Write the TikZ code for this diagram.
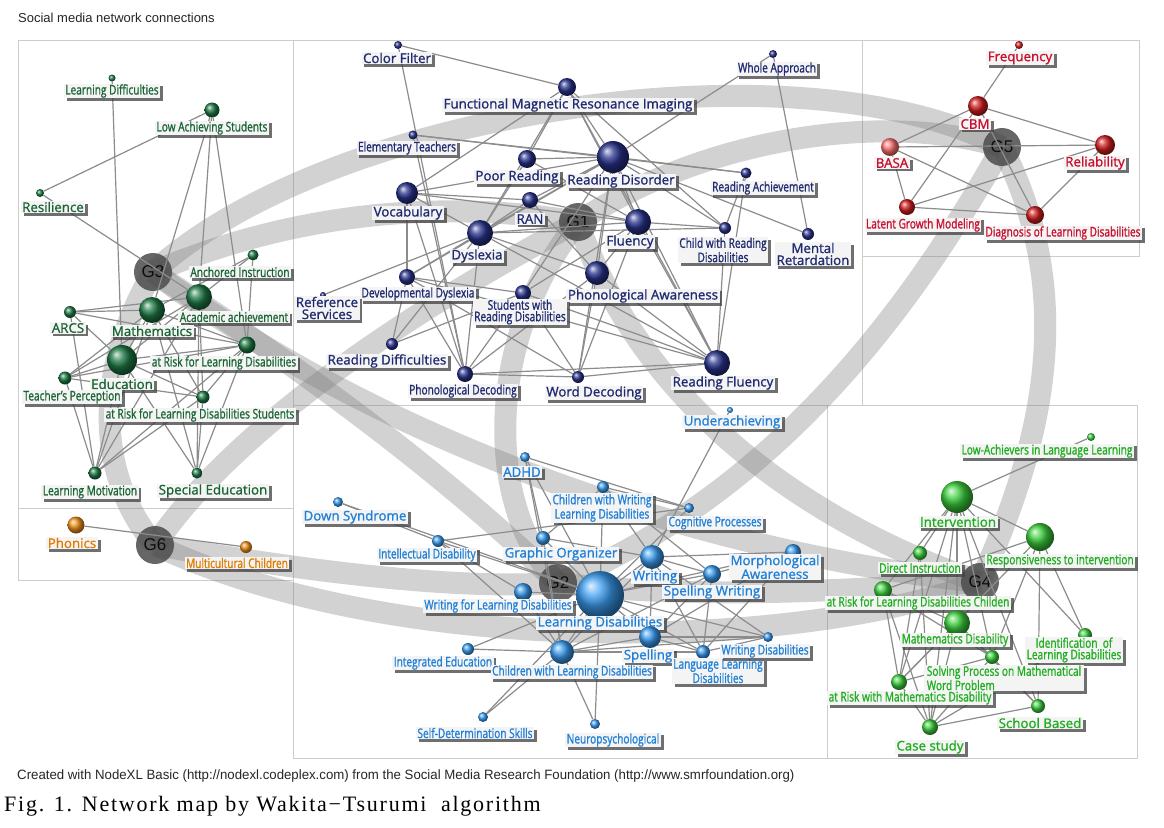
\documentclass[tikz,border=0pt]{standalone}
\usepackage{fontspec}
\setmainfont{Open Sans}
\newfontfamily\lblfont[FakeBold=1.2]{Open Sans}
\newfontfamily\cndfont[FakeStretch=0.76,FakeBold=1.2]{Open Sans}
\newfontfamily\uifont{Liberation Sans}
\newfontfamily\narrowfont[FakeStretch=0.98]{Liberation Sans}
\newfontfamily\capfont[LetterSpace=8]{Liberation Serif}
\usetikzlibrary{shadows}
\pgfdeclarelayer{paper}
\pgfdeclarelayer{bands}
\pgfdeclarelayer{edges}
\pgfsetlayers{paper,bands,edges,main}
\definecolor{cnavy}{HTML}{28328C}
\definecolor{tnavy}{HTML}{1F2A70}
\definecolor{cblue}{HTML}{3A9CF0}
\definecolor{tblue}{HTML}{2080D8}
\definecolor{cdkg}{HTML}{1E7A45}
\definecolor{tdkg}{HTML}{1B6535}
\definecolor{cgrn}{HTML}{3CD03C}
\definecolor{tgrn}{HTML}{1FAE1F}
\definecolor{cred}{HTML}{D21E1E}
\definecolor{tred}{HTML}{C8102E}
\definecolor{corg}{HTML}{F0901A}
\definecolor{torg}{HTML}{E27C00}
\definecolor{lblbg}{HTML}{F4F4F4}
\tikzset{
  ballnode/.style={circle, inner sep=0pt, minimum size=#1pt},
  b1/.style={ballnode=#1, ball color=cnavy},
  b2/.style={ballnode=#1, ball color=cblue},
  b3/.style={ballnode=#1, ball color=cdkg},
  b4/.style={ballnode=#1, ball color=cgrn},
  b5/.style={ballnode=#1, ball color=cred},
  b6/.style={ballnode=#1, ball color=corg},
  lbl/.style={fill=lblbg, inner xsep=1.5pt, inner ysep=0.8pt, align=center,
    drop shadow={shadow xshift=2.8pt, shadow yshift=-2.8pt, fill=black!75, opacity=0.75},
    font=\lblfont\fontsize{13.3}{12}\selectfont},
  cnd/.style={lbl, font=\cndfont\fontsize{13.3}{11.5}\selectfont},
  t1/.style={text=tnavy}, t2/.style={text=tblue}, t3/.style={text=tdkg},
  t4/.style={text=tgrn}, t5/.style={text=tred}, t6/.style={text=torg},
  edge/.style={draw=black!45, line width=1.2pt},
  band/.style={draw=black!50, line width=22pt, opacity=0.35},
  gnode/.style={circle, fill=black!70, fill opacity=0.85, text opacity=1,
    minimum size=38pt, inner sep=0pt, text=black!95, font=\uifont\fontsize{17}{17}\selectfont},
  boxline/.style={draw=black!20, line width=0.9pt}
}
\begin{document}
\begin{tikzpicture}[x=1pt,y=-1pt]
\begin{pgfonlayer}{paper}
\fill[white] (0,0) rectangle (1164,827);
\end{pgfonlayer}
\useasboundingbox (0,0) rectangle (1164,827);
% group boxes
\begin{pgfonlayer}{bands}
\draw[boxline] (18,40) rectangle (293,508);
\draw[boxline] (18,508) rectangle (293,580);
\draw[boxline] (293,40) rectangle (862,405);
\draw[boxline] (862,40) rectangle (1139,256);
\draw[boxline] (293,405) rectangle (827,758);
\draw[boxline] (827,405) rectangle (1137,758);
\end{pgfonlayer}
% titles
\node[anchor=west, text=black!85, inner sep=0pt] (title) at (18,18) {\uifont\fontsize{13}{13}\selectfont Social media network connections};
\node[anchor=west, text=black!85, inner sep=0pt] (foot) at (17,776) {\narrowfont\fontsize{13.5}{13.5}\selectfont Created with NodeXL Basic (http://nodexl.codeplex.com) from the Social Media Research Foundation (http://www.smrfoundation.org)};
\node[anchor=west, text=black, inner sep=0pt] (cap) at (4,806) {\capfont\fontsize{22}{22}\selectfont Fig. 1. Network map by Wakita−Tsurumi\ \ algorithm};
% group centres
\begin{pgfonlayer}{edges}
\node[gnode] (G1) at (578,222) {G1};
\node[gnode] (G2) at (558,583) {G2};
\node[gnode] (G3) at (153,272) {G3};
\node[gnode] (G4) at (980,582) {G4};
\node[gnode] (G5) at (1002,147) {G5};
\node[gnode] (G6) at (155,545) {G6};
\end{pgfonlayer}
% ---------- G3 ----------
\node[b3=7] (cLD) at (112,78) {};   \node[cnd,t3] (cLD-l) at (112,91) {Learning Difficulties};
\node[b3=15] (cLAS) at (212,110) {}; \node[cnd,t3] (cLAS-l) at (212,128) {Low Achieving Students};
\node[b3=8] (cRes) at (40,193) {};  \node[lbl,t3] (cRes-l) at (53,207) {Resilience};
\node[b3=11] (cAI) at (253,255) {}; \node[cnd,t3] (cAI-l) at (240,272) {Anchored Instruction};
\node[b3=26] (cAA) at (199,297) {}; \node[cnd,t3] (cAA-l) at (234,317) {Academic achievement};
\node[b3=26] (cMa) at (152,310) {}; \node[lbl,t3] (cMa-l) at (152,331) {Mathematics};
\node[b3=12] (cAR) at (70,312) {};  \node[lbl,t3] (cAR-l) at (68,328) {ARCS};
\node[b3=17] (cRL) at (247,345) {}; \node[cnd,t3] (cRL-l) at (224,363) {at Risk for Learning Disabilities};
\node[b3=30] (cEd) at (122,360) {}; \node[lbl,t3] (cEd-l) at (122,384) {Education};
\node[b3=13] (cTP) at (65,378) {};  \node[cnd,t3] (cTP-l) at (72,397) {Teacher’s Perception};
\node[b3=13] (cRS) at (203,397) {}; \node[cnd,t3] (cRS-l) at (200,415) {at Risk for Learning Disabilities Students};
\node[b3=13] (cLM) at (95,473) {};  \node[cnd,t3] (cLM-l) at (90,492) {Learning Motivation};
\node[b3=11] (cSE) at (197,473) {}; \node[lbl,t3] (cSE-l) at (213,491) {Special Education};
% ---------- G6 ----------
\node[b6=17] (oPh) at (76,525) {};  \node[lbl,t6] (oPh-l) at (72,543) {Phonics};
\node[b6=12] (oMC) at (246,547) {}; \node[cnd,t6] (oMC-l) at (237,563) {Multicultural Children};
% ---------- G1 ----------
\node[b1=8] (aCF) at (398,45) {};   \node[lbl,t1] (aCF-l) at (397,58) {Color Filter};
\node[b1=18] (aFM) at (567,87) {};  \node[lbl,t1] (aFM-l) at (568,105) {Functional Magnetic Resonance Imaging};
\node[b1=9] (aET) at (413,135) {};  \node[cnd,t1] (aET-l) at (407,148) {Elementary Teachers};
\node[b1=18] (aPR) at (527,159) {}; \node[lbl,t1] (aPR-l) at (517,177) {Poor Reading};
\node[b1=32] (aRD) at (613,157) {}; \node[lbl,t1] (aRD-l) at (621,181) {Reading Disorder};
\node[b1=8] (aWA) at (773,54) {};   \node[cnd,t1] (aWA-l) at (777,69) {Whole Approach};
\node[b1=11] (aRA) at (746,173) {}; \node[cnd,t1] (aRA-l) at (763,188) {Reading Achievement};
\node[b1=22] (aVo) at (407,193) {}; \node[lbl,t1] (aVo-l) at (408,213) {Vocabulary};
\node[b1=16] (aRN) at (530,200) {}; \node[lbl,t1] (aRN-l) at (530,219) {RAN};
\node[b1=26] (aDy) at (480,233) {}; \node[lbl,t1] (aDy-l) at (477,256) {Dyslexia};
\node[b1=26] (aFl) at (638,222) {}; \node[lbl,t1] (aFl-l) at (630,242) {Fluency};
\node[b1=12] (aCR) at (725,228) {}; \node[cnd,t1] (aCR-l) at (723,250) {Child with Reading\\Disabilities};
\node[b1=12] (aMR) at (808,234) {}; \node[lbl,t1] (aMR-l) at (813,254) {Mental\\Retardation};
\node[b1=16] (aDD) at (407,277) {}; \node[cnd,t1] (aDD-l) at (418,294) {Developmental Dyslexia};
\node[b1=24] (aPA) at (597,273) {}; \node[lbl,t1] (aPA-l) at (643,296) {Phonological Awareness};
\node[b1=6] (aRS) at (323,295) {};  \node[lbl,t1] (aRS-l) at (327,308) {Reference\\Services};
\node[b1=16] (aSR) at (523,293) {}; \node[cnd,t1] (aSR-l) at (520,312) {Students with\\Reading Disabilities};
\node[b1=12] (aRf) at (392,344) {}; \node[lbl,t1] (aRf-l) at (387,361) {Reading Difficulties};
\node[b1=16] (aPD) at (465,374) {}; \node[cnd,t1] (aPD-l) at (463,391) {Phonological Decoding};
\node[b1=12] (aWD) at (578,377) {}; \node[lbl,t1] (aWD-l) at (594,393) {Word Decoding};
\node[b1=26] (aRF) at (717,363) {}; \node[lbl,t1] (aRF-l) at (723,383) {Reading Fluency};
% ---------- G5 ----------
\node[b5=8] (rFr) at (1019,45) {};  \node[lbl,t5] (rFr-l) at (1020,58) {Frequency};
\node[b5=20] (rCB) at (978,106) {}; \node[lbl,t5] (rCB-l) at (975,124) {CBM};
\node[ballnode=18, ball color=red!55] (rBA) at (890,147) {}; \node[lbl,t5] (rBA-l) at (892,163) {BASA};
\node[b5=20] (rRe) at (1105,145) {}; \node[lbl,t5] (rRe-l) at (1095,163) {Reliability};
\node[b5=16] (rLG) at (907,207) {}; \node[cnd,t5] (rLG-l) at (923,225) {Latent Growth Modeling};
\node[b5=18] (rDL) at (1035,215) {}; \node[cnd,t5] (rDL-l) at (1063,233) {Diagnosis of Learning Disabilities};
% ---------- G2 ----------
\node[b2=6] (bUn) at (730,410) {};  \node[lbl,t2] (bUn-l) at (732,422) {Underachieving};
\node[b2=10] (bAD) at (525,457) {}; \node[lbl,t2] (bAD-l) at (522,472) {ADHD};
\node[b2=12] (bCW) at (603,487) {}; \node[cnd,t2] (bCW-l) at (602,508) {Children with Writing\\Learning Disabilities};
\node[b2=10] (bDS) at (338,502) {}; \node[lbl,t2] (bDS-l) at (355,517) {Down Syndrome};
\node[b2=10] (bCP) at (689,508) {}; \node[cnd,t2] (bCP-l) at (715,523) {Cognitive Processes};
\node[b2=12] (bID) at (438,541) {}; \node[cnd,t2] (bID-l) at (427,555) {Intellectual Disability};
\node[b2=14] (bGO) at (543,538) {}; \node[lbl,t2] (bGO-l) at (561,554) {Graphic Organizer};
\node[b2=24] (bWr) at (652,557) {}; \node[lbl,t2] (bWr-l) at (655,577) {Writing};
\node[b2=16] (bMA) at (793,552) {}; \node[lbl,t2] (bMA-l) at (775,567) {Morphological\\Awareness};
\node[b2=18] (bSW) at (712,574) {}; \node[lbl,t2] (bSW-l) at (712,592) {Spelling Writing};
\node[b2=18] (bWL) at (523,592) {}; \node[cnd,t2] (bWL-l) at (498,606) {Writing for Learning Disabilities};
\node[b2=48] (bLD) at (600,595) {}; \node[lbl,t2] (bLD-l) at (600,623) {Learning Disabilities};
\node[b2=22] (bSp) at (650,637) {}; \node[lbl,t2] (bSp-l) at (648,656) {Spelling};
\node[b2=12] (bIE) at (468,649) {}; \node[cnd,t2] (bIE-l) at (443,663) {Integrated Education};
\node[b2=24] (bCL) at (562,652) {}; \node[cnd,t2] (bCL-l) at (572,672) {Children with Learning Disabilities};
\node[b2=14] (bLL) at (703,652) {}; \node[cnd,t2] (bLL-l) at (718,671) {Language Learning\\Disabilities};
\node[b2=10] (bWD) at (768,637) {}; \node[cnd,t2] (bWD-l) at (765,651) {Writing Disabilities};
\node[b2=10] (bSD) at (483,717) {}; \node[cnd,t2] (bSD-l) at (475,733) {Self-Determination Skills};
\node[b2=10] (bNe) at (595,724) {}; \node[cnd,t2] (bNe-l) at (613,740) {Neuropsychological};
% ---------- G4 ----------
\node[b4=8] (gLA) at (1091,437) {}; \node[cnd,t4] (gLA-l) at (1047,451) {Low-Achievers in Language Learning};
\node[b4=32] (gIn) at (957,497) {}; \node[lbl,t4] (gIn-l) at (958,522) {Intervention};
\node[b4=28] (gRI) at (1040,537) {}; \node[cnd,t4] (gRI-l) at (1060,561) {Responsiveness to intervention};
\node[b4=14] (gDI) at (920,553) {}; \node[cnd,t4] (gDI-l) at (920,568) {Direct Instruction};
\node[b4=18] (gRC) at (883,590) {}; \node[cnd,t4] (gRC-l) at (918,603) {at Risk for Learning Disabilities Childen};
\node[b4=26] (gMD) at (957,623) {}; \node[cnd,t4] (gMD-l) at (955,640) {Mathematics Disability};
\node[b4=14] (gIL) at (1085,635) {}; \node[cnd,t4] (gIL-l) at (1074,650) {Identification\ \ of\\Learning Disabilities};
\node[b4=14] (gSP) at (992,657) {}; \node[cnd,t4,align=left,inner xsep=3pt] (gSP-l) at (1004,678) {Solving Process on Mathematical\\Word Problem};
\node[b4=16] (gRM) at (899,682) {}; \node[cnd,t4] (gRM-l) at (910,698) {at Risk with Mathematics Disability};
\node[b4=14] (gSB) at (1038,706) {}; \node[lbl,t4] (gSB-l) at (1040,723) {School Based};
\node[b4=16] (gCS) at (930,727) {}; \node[lbl,t4] (gCS-l) at (930,747) {Case study};
% ---------- inter-group bands ----------
\begin{pgfonlayer}{bands}
\draw[band] (G3.center) .. controls (330,110) and (800,40) .. (G5.center);
\draw[band] (G1.center) .. controls (700,140) and (880,110) .. (G5.center);
\draw[band] (G3.center) .. controls (300,210) and (450,200) .. (G1.center);
\draw[band] (G3.center) .. controls (320,380) and (450,480) .. (G2.center);
\draw[band] (G3.center) .. controls (420,470) and (760,560) .. (G4.center);
\draw[band] (G6.center) .. controls (400,660) and (800,650) .. (G4.center);
\draw[band] (G6.center) .. controls (240,420) and (430,300) .. (G1.center);
\draw[band] (G6.center) .. controls (300,570) and (450,590) .. (G2.center);
\draw[band] (G1.center) .. controls (490,330) and (480,500) .. (G2.center);
\draw[band] (G1.center) .. controls (640,400) and (800,520) .. (G4.center);
\draw[band] (G5.center) .. controls (900,330) and (760,500) .. (G2.center);
\draw[band] (G5.center) .. controls (1080,300) and (1040,450) .. (G4.center);
\draw[band] (G2.center) .. controls (700,600) and (850,590) .. (G4.center);
\draw[band] (G3.center) .. controls (90,380) and (100,480) .. (G6.center);
\end{pgfonlayer}
% ---------- edges ----------
\begin{pgfonlayer}{edges}
\foreach \a/\b in {cLD/cEd, cLAS/cRes, cLAS/cMa, cLAS/cAA, cLAS/cRL, cRes/cAA, cAI/cMa, cAI/cRL, cAI/cAA,
  cAR/cMa, cAR/cAA, cAR/cEd, cAR/cLM, cAR/cRL, cMa/cEd, cMa/cRL, cMa/cRS, cMa/cLM, cMa/cSE, cMa/cTP,
  cAA/cEd, cAA/cRS, cAA/cSE, cAA/cLM, cAA/cTP, cEd/cRL, cEd/cRS, cEd/cLM, cEd/cSE, cEd/cTP,
  cTP/cRL, cTP/cRS, cTP/cLM, cRL/cRS, cRL/cLM, cRL/cSE, cRS/cLM, cRS/cSE, oPh/oMC}
  \draw[edge] (\a) -- (\b);
\foreach \a/\b in {aCF/aFM, aCF/aPD, aFM/aVo, aFM/aPR, aFM/aRD, aFM/aDy, aFM/aFl, aFM/aRF, aFM/aCR,
  aWA/aRD, aET/aRA, aET/aPD, aET/aRD, aWA/aMR, aRA/aRD, aRA/aCR, aRA/aRF,
  aRD/aVo, aRD/aPR, aRD/aRN, aRD/aDy, aRD/aFl, aRD/aPA, aRD/aSR, aRD/aCR, aRD/aDD, aRD/aRF, aRD/aWD, aRD/aMR,
  aDy/aVo, aDy/aPR, aDy/aRN, aDy/aFl, aDy/aPA, aDy/aDD, aDy/aRS, aDy/aPD, aDy/aRF, aDy/aRf, aDy/aCR,
  aVo/aDD, aVo/aPD, aVo/aFl, aVo/aRN, aFl/aRF, aFl/aPA, aFl/aWD, aFl/aCR, aFl/aPR, aFl/aRN, aFl/aSR,
  aPA/aRF, aPA/aWD, aPA/aPD, aPA/aRN, aDD/aRf, aDD/aPD, aDD/aWD, aDD/aRF, aDD/aSR,
  aSR/aPD, aSR/aWD, aSR/aRf, aSR/aRF, aPD/aWD, aPD/aRF, aWD/aRF, aCR/aRF}
  \draw[edge] (\a) -- (\b);
\foreach \a/\b in {rFr/rCB, rCB/rBA, rCB/rRe, rCB/rLG, rCB/rDL, rBA/rRe, rBA/rDL, rBA/rLG, rLG/rRe, rLG/rDL, rRe/rDL}
  \draw[edge] (\a) -- (\b);
\foreach \a/\b in {bLD/bWr, bLD/bSW, bLD/bMA, bLD/bSp, bLD/bCL, bLD/bWL, bLD/bGO, bLD/bID, bLD/bLL, bLD/bWD,
  bLD/bNe, bLD/bIE, bLD/bSD, bLD/bAD, bLD/bCW, bLD/bCP, bLD/bDS, bDS/bID, bAD/bCP, bAD/bGO, bAD/bCL,
  bID/bCP, bID/bCL, bID/bWL, bUn/bWr, bCW/bWr, bCW/bSW, bCW/bCP, bCW/bGO,
  bWr/bSW, bWr/bSp, bWr/bMA, bWr/bCL, bWr/bLL, bWr/bWD, bSW/bMA, bSW/bSp, bSW/bLL, bSW/bCL,
  bMA/bSp, bMA/bLL, bSp/bLL, bSp/bCL, bSp/bWD, bCL/bIE, bCL/bSD, bCL/bNe, bCL/bLL, bCL/bWD, bCL/bWL,
  bLL/bWD, bGO/bWr, bGO/bCL}
  \draw[edge] (\a) -- (\b);
\foreach \a/\b in {gLA/gIn, gIn/gRI, gIn/gDI, gIn/gRC, gIn/gMD, gIn/gSP, gIn/gCS, gIn/gRM, gIn/gSB, gIn/gIL,
  gRI/gRC, gRI/gIL, gRI/gSB, gRI/gSP, gRI/gRM, gDI/gRM, gDI/gCS, gRC/gMD, gRC/gCS, gRC/gRM, gRC/gSP,
  gMD/gRM, gMD/gCS, gMD/gSP, gMD/gSB, gSP/gRM, gSP/gCS, gSP/gSB, gIL/gCS, gRM/gCS, gCS/gSB}
  \draw[edge] (\a) -- (\b);
\end{pgfonlayer}
\end{tikzpicture}
\end{document}
